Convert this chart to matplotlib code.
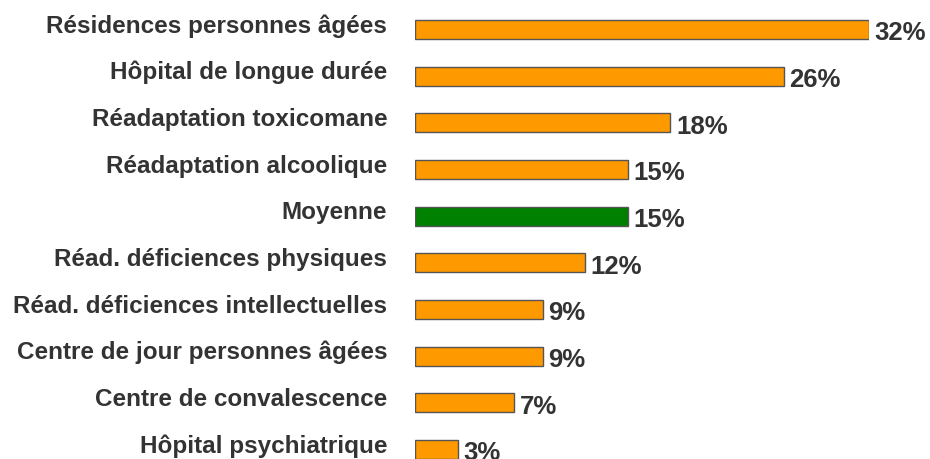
import matplotlib
matplotlib.use("Agg")
import matplotlib.pyplot as plt
from matplotlib.transforms import ScaledTranslation

categories = [
    "Résidences personnes âgées",
    "Hôpital de longue durée",
    "Réadaptation toxicomane",
    "Réadaptation alcoolique",
    "Moyenne",
    "Réad. déficiences physiques",
    "Réad. déficiences intellectuelles",
    "Centre de jour personnes âgées",
    "Centre de convalescence",
    "Hôpital psychiatrique",
]
values = [32, 26, 18, 15, 15, 12, 9, 9, 7, 3]
value_labels = ["32%", "26%", "18%", "15%", "15%", "12%", "9%", "9%", "7%", "3%"]
highlight = "Moyenne"

plt.rcParams['font.family'] = ['Liberation Sans', 'DejaVu Sans']

W, H = 930, 460
fig = plt.figure(figsize=(W / 100, H / 100), dpi=100)
x0, x1 = 415, 869
ax = fig.add_axes([x0 / W, 0, (x1 - x0) / W, 1])

step = 46.67
top_c = 30.5
ylo = -top_c / step
yhi = (H - top_c) / step
ax.set_ylim(yhi, ylo)
ax.set_xlim(0, 32)

ypos = list(range(len(categories)))
colors = ["#008000" if c == highlight else "#FF9900" for c in categories]
ax.barh(ypos, values, height=0.41, color=colors, edgecolor="#555555", linewidth=1.0)

txtc = "#333333"
for y, v, lab in zip(ypos, values, value_labels):
    ax.annotate(lab, (v, y), xytext=(4, -2), textcoords="offset points",
                ha="left", va="center", fontsize=18.5, fontweight="bold", color=txtc,
                annotation_clip=False)

ax.set_yticks(ypos)
ax.set_yticklabels(categories, fontsize=17.5, fontweight="bold", color=txtc)
ax.tick_params(axis="y", length=0, pad=20)
off = ScaledTranslation(0, 5 / 72, fig.dpi_scale_trans)
for t in ax.get_yticklabels():
    t.set_transform(t.get_transform() + off)
ax.set_xticks([])
for s in ax.spines.values():
    s.set_visible(False)

fig.savefig("out.png", dpi=100)
